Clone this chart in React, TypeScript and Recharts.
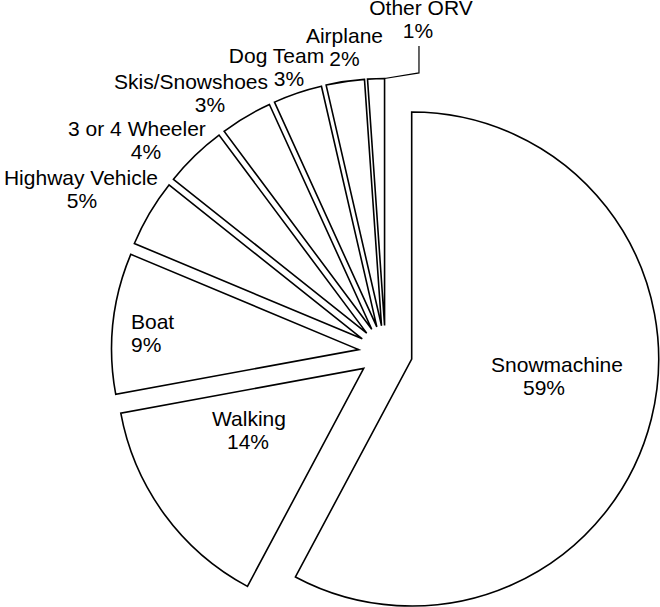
import { PieChart, Pie, Cell, Sector } from 'recharts';

// share of travel mode (slice sizes as drawn) and the percent labels as printed
const CATEGORIES = [
  'Snowmachine',
  'Walking',
  'Boat',
  'Highway Vehicle',
  '3 or 4 Wheeler',
  'Skis/Snowshoes',
  'Dog Team',
  'Airplane',
  'Other ORV',
];
const SHARES = [57.8, 14.3, 9.2, 4.4, 4.1, 3.4, 3.2, 2.5, 1.1];
const PERCENT_LABELS = ['59%', '14%', '9%', '5%', '4%', '3%', '3%', '2%', '1%'];

// label placement relative to the pie: distance from centre and turn from slice mid angle
const LABEL_RADIUS = [172.6, 155, 255.6, 347.5, 329.6, 327.5, 309.3, 312.2, 339.4];
const LABEL_TURN = [7.55, -7.9, 0.84, 1.79, 4.84, 5.83, 1.91, -0.91, -7.98];
const LABEL_ANCHOR = ['middle', 'middle', 'start', 'middle', 'middle', 'middle', 'middle', 'middle', 'middle'];
const SECOND_LINE_DX = [-13, -1, 0, 1, 9, 19, 12.5, 0, -3];

const data = CATEGORIES.map((name, i) => ({ name, value: SHARES[i] }));

const RAD = Math.PI / 180;
const EXPLODE = 27;
const FONT = 'Arial, "Liberation Sans", sans-serif';

const polar = (cx: number, cy: number, r: number, angle: number) => ({
  x: cx + r * Math.cos(-angle * RAD),
  y: cy + r * Math.sin(-angle * RAD),
});

const ExplodedSector = (props: any) => {
  const { cx, cy, midAngle, innerRadius, outerRadius, startAngle, endAngle } = props;
  const c = polar(cx, cy, EXPLODE, midAngle);
  return (
    <Sector
      cx={c.x}
      cy={c.y}
      innerRadius={innerRadius}
      outerRadius={outerRadius}
      startAngle={startAngle}
      endAngle={endAngle}
      fill="#fff"
      stroke="#000"
      strokeWidth={1.6}
    />
  );
};

const renderLabel = (props: any) => {
  const { cx, cy, midAngle, outerRadius, endAngle, index } = props;
  const p = polar(cx, cy, LABEL_RADIUS[index], midAngle + LABEL_TURN[index]);
  const lineGap = 23;
  let leader = null;
  if (index === CATEGORIES.length - 1) {
    // leader line for the thin last slice
    const c = polar(cx, cy, EXPLODE, midAngle);
    const edge = polar(c.x, c.y, outerRadius, endAngle ?? midAngle);
    const lx = p.x - 2;
    leader = (
      <polyline
        points={`${lx},${p.y + lineGap + 8} ${lx},${p.y + lineGap + 35} ${edge.x},${edge.y}`}
        fill="none"
        stroke="#000"
        strokeWidth={1.2}
      />
    );
  }
  return (
    <g key={`label-${index}`}>
      {leader}
      <text
        x={p.x}
        y={p.y}
        textAnchor={LABEL_ANCHOR[index] as any}
        fontSize={21}
        fontFamily={FONT}
        fill="#000"
      >
        <tspan x={p.x} y={p.y}>{CATEGORIES[index]}</tspan>
        <tspan x={p.x + SECOND_LINE_DX[index]} y={p.y + lineGap}>{PERCENT_LABELS[index]}</tspan>
      </text>
    </g>
  );
};

export default function App() {
  return (
    <div style={{ position: 'absolute', left: 0, top: 0, width: 660, height: 607, background: '#fff' }}>
      <PieChart width={660} height={607} margin={{ top: 0, right: 0, bottom: 0, left: 0 }}>
        <Pie
          data={data}
          dataKey="value"
          nameKey="name"
          cx={385.5}
          cy={352.5}
          innerRadius={0}
          outerRadius={247}
          startAngle={90}
          endAngle={-270}
          stroke="#000"
          strokeWidth={1.6}
          fill="#fff"
          shape={ExplodedSector}
          label={renderLabel}
          labelLine={false}
          isAnimationActive={false}
        >
          {data.map((entry, index) => (
            <Cell key={`cell-${index}`} fill="#fff" />
          ))}
        </Pie>
      </PieChart>
    </div>
  );
}
